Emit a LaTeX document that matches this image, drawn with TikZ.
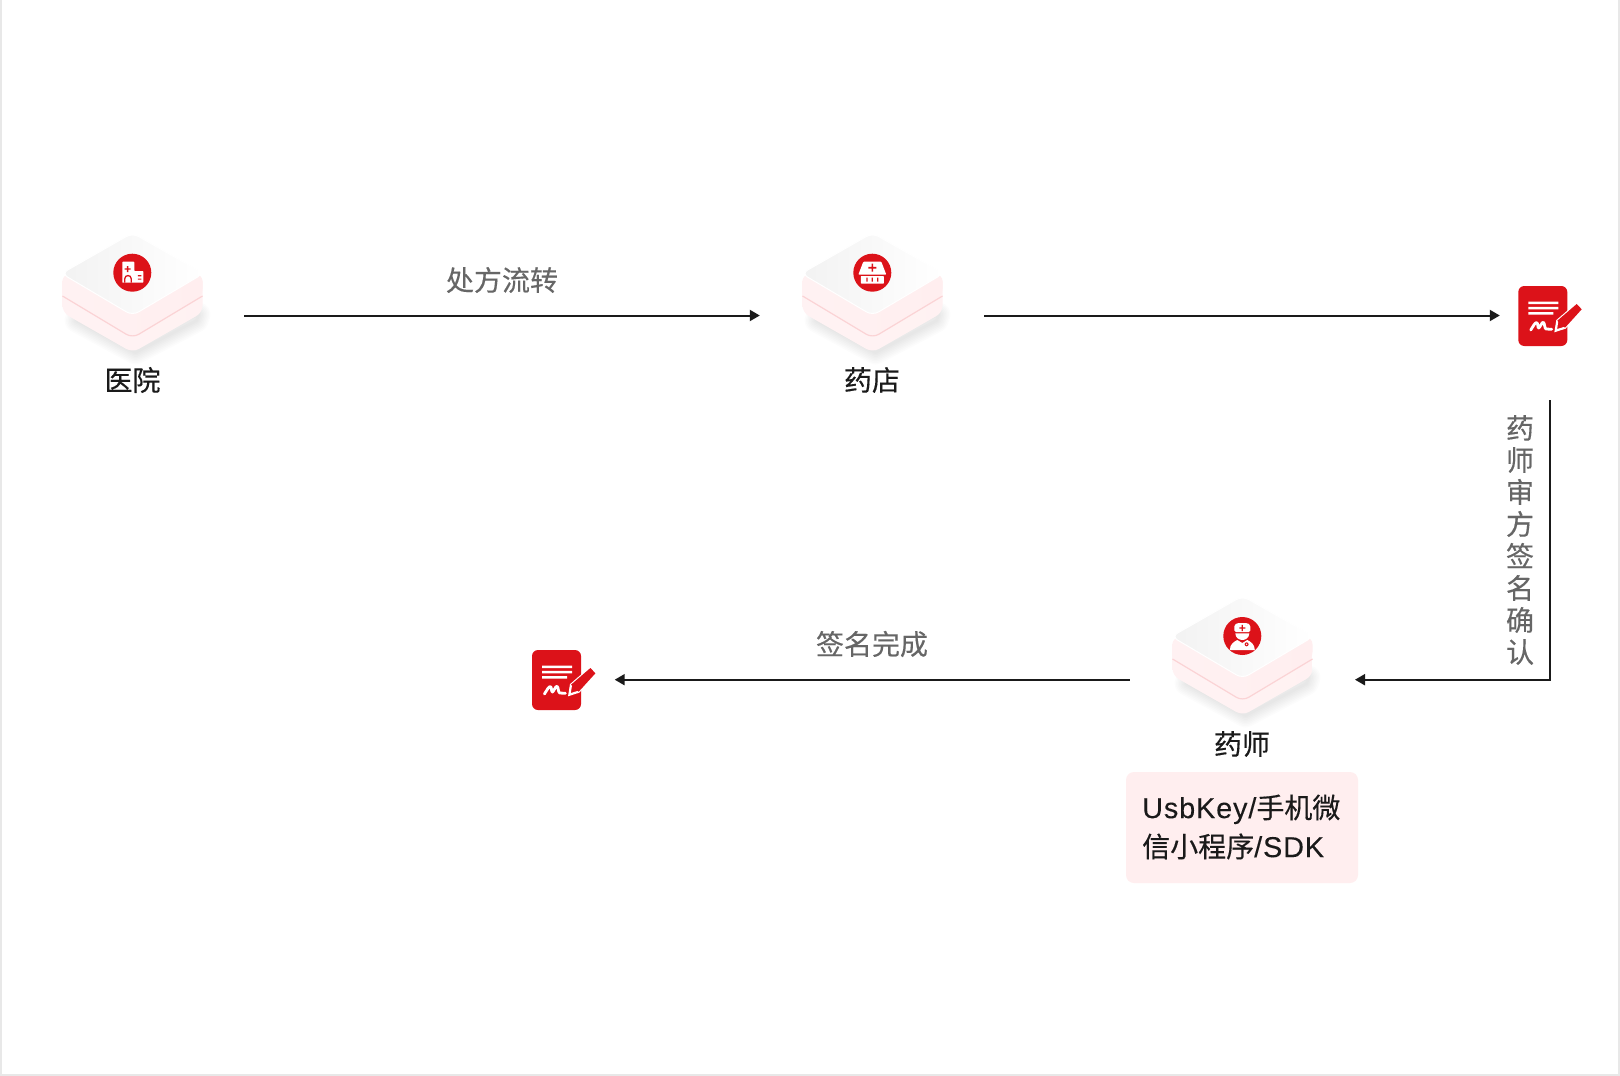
\documentclass[tikz,border=0pt]{standalone}
\usepackage{fontspec}
\setmainfont{Noto Sans CJK SC}
\newfontfamily\labelfont[FakeBold=0.3]{Noto Sans CJK SC}
\newfontfamily\latinfont[LetterSpace=3,Scale=1.03,FakeBold=0.15]{Liberation Sans}
\usetikzlibrary{arrows.meta}

\definecolor{brandred}{HTML}{DC1219}
\definecolor{softpink}{HTML}{FFEEEF}
\definecolor{seampink}{HTML}{FBD3D5}
\definecolor{framegray}{HTML}{E8E8E8}
\definecolor{labelgray}{HTML}{666666}
\definecolor{inkblack}{HTML}{1A1A1A}

\tikzset{
  slot/.style={minimum width=#1, minimum height=30, inner sep=0},
  flow/.style={draw=inkblack, line width=2, -{Triangle[length=10,width=11]}},
  steplabel/.style={font=\fontsize{28}{32}\selectfont\labelfont, text=labelgray, align=center, inner sep=0},
  actorlabel/.style={font=\fontsize{28}{32}\selectfont\labelfont, text=inkblack, inner sep=0},
  cube/.pic={
    % Sombra
    \foreach \w in {3,6,...,24}
      \draw[black, opacity=.010, line width=\w, line join=round]
        (-56,46) -- (3,78) -- (64,46) -- (66,40) -- (3,66) -- (-54,42) -- cycle;
    % Capa inferior y capa superior
    \draw[rounded corners=7, left color=softpink!75, right color=softpink!80, draw=none]
      (-70,0) -- (-70,38) -- (0,78) -- (70,38) -- (70,0) -- cycle;
    \draw[rounded corners=7, left color=softpink!80, right color=softpink, draw=none]
      (-70,0) -- (-70,21.5) -- (0,63.5) -- (70,21.5) -- (70,0) -- cycle;
    \draw[seampink, line width=1.2, rounded corners=7] (-70,21.5) -- (0,63.5) -- (70,21.5);
    % Cara superior
    \draw[white, line width=1, rounded corners=7, left color=black!5, right color=white]
      (-71,-1) -- (0,-41.5) -- (71,-1) -- (0,41) -- cycle;
  },
  hospitalicon/.pic={
    \fill[brandred] (0,0) circle (19);
    \fill[white, rounded corners=.6] (-10,10) -- (-10,-11) -- (2,-11) -- (2,-1.7) -- (11,-1.7) -- (11,10) -- cycle;
    \fill[brandred] (-7.7,-4.4) rectangle (-1.7,-3) (-5.4,-6.7) rectangle (-4,-.7);
    \draw[brandred, line width=1.3] (-7.5,10) -- (-7.5,6) arc (180:360:3.2) -- (-1.1,10);
    \fill[brandred] (5.5,2.4) rectangle (9,3.6) (5.5,5.8) rectangle (9,7);
  },
  shopicon/.pic={
    \fill[brandred] (0,0) circle (19);
    \fill[white, rounded corners=.8] (-9,-11) -- (9,-11) -- (14,2) -- (-14,2) -- cycle;
    \fill[white, rounded corners=.5] (-11.5,3.4) rectangle (11.5,10.8);
    \fill[brandred] (-4,-5.8) rectangle (4,-4.2) (-.8,-9) rectangle (.8,-1);
    \fill[brandred] (-6,5) rectangle (-4.8,9) (-.6,5) rectangle (.6,9) (4.8,5) rectangle (6,9);
  },
  doctoricon/.pic={
    \fill[brandred] (0,0) circle (19);
    \fill[white, rounded corners=1.5] (-8,-4) -- (-8,-11) -- (-5,-13) -- (5,-13) -- (8,-11) -- (8,-4) -- cycle;
    \fill[brandred] (-3,-8.7) rectangle (3,-7.5) (-.6,-11.2) rectangle (.6,-5);
    \fill[white] (-7,-2.6) -- (7,-2.6) .. controls (6.8,2) and (3,4) .. (0,4) .. controls (-3,4) and (-6.8,2) .. (-7,-2.6) -- cycle;
    \fill[white] (-12.5,14) .. controls (-12.5,8) and (-8,5.5) .. (-5,4) -- (0,7) -- (5,4) .. controls (8,5.5) and (12.5,8) .. (12.5,14) -- cycle;
    \fill[brandred] (4.3,8.3) circle (2);
    \fill[white] (4.3,8.3) circle (.8);
  },
  signicon/.pic={
    % origen en la esquina del documento
    \fill[brandred, rounded corners=6] (0,0) rectangle (49,60);
    \fill[white] (10,15.6) rectangle (40,18) (10,20.9) rectangle (40,23.3) (10,26.2) rectangle (35,28.6);
    \draw[white, line width=2.8, line cap=round, line join=round]
      (12.4,44) .. controls (15,40) and (17,36) .. (18.4,36.7) .. controls (20,37) and (19,42) .. (20.5,42)
      .. controls (22,41) and (23.5,36) .. (25,36.3) .. controls (26.5,37) and (26,42) .. (27.7,43) -- (33.4,43.3);
    \draw[white, fill=brandred, line width=2.2, line join=miter]
      (37.4,44.7) -- (39,34.7) -- (58.4,18) -- (63.4,23.3) -- (46.7,41.7) -- cycle;
    \fill[brandred] (39,34.7) -- (58.4,18) -- (63.4,23.3) -- (46.7,41.7) -- cycle;
  },
}

\begin{document}
\begin{tikzpicture}[x=1pt, y=-1pt]
  \useasboundingbox (0,0) rectangle (1620,1076);
  \fill[white] (0,0) rectangle (1620,1076);

  % Marco
  \fill[framegray] (0,0) rectangle (1.6,1076);
  \fill[framegray] (1618,0) rectangle (1620,1076);
  \fill[framegray] (0,1074) rectangle (1620,1076);

  % Nodos
  \node[slot=223] (hospital) at (132.5,315.5) {};
  \node[slot=224] (pharmacy) at (872,315.5) {};
  \node[slot=86] (signtask) at (1543,315.5) {};
  \node[slot=225] (pharmacist) at (1242.3,679.7) {};
  \node[slot=115] (signdone) at (557,679.7) {};
  \coordinate (signfoot) at (1550,400);

  \pic at (132.5,274.5) {cube};
  \pic at (872.5,274.5) {cube};
  \pic at (1242.5,637.5) {cube};

  \pic at (132.3,272.7) {hospitalicon};
  \pic at (872.3,272.7) {shopicon};
  \pic at (1242.3,636) {doctoricon};
  \pic at (1518.3,286) {signicon};
  \pic at (532,650) {signicon};

  % Etiquetas
  \node[actorlabel] (hospitalname) at (132.5,380) {医院};
  \node[actorlabel] (pharmacyname) at (872,380) {药店};
  \node[actorlabel] (pharmacistname) at (1242,744) {药师};
  \node[steplabel] (transfer) at (502,280) {处方流转};
  \node[steplabel] (finished) at (872,644) {签名完成};
  \node[steplabel] (review) at (1520,540) {药\\师\\审\\方\\签\\名\\确\\认};

  \node[fill=softpink, rounded corners=8, minimum width=232, minimum height=111, inner sep=0] (toolbox) at (1242,827.5) {};
  \node[actorlabel, align=left, anchor=west] (toolnote) at (1142,827) {%
    {\latinfont UsbKey/}手机微\\[7pt]
    信小程序{\latinfont /SDK}};

  % Conexiones
  \draw[flow] (hospital.east) -- (pharmacy.west);
  \draw[flow] (pharmacy.east) -- (signtask.west);
  \draw[flow] (signfoot) |- (pharmacist.east);
  \draw[flow] (pharmacist.west) -- (signdone.east);
\end{tikzpicture}
\end{document}
